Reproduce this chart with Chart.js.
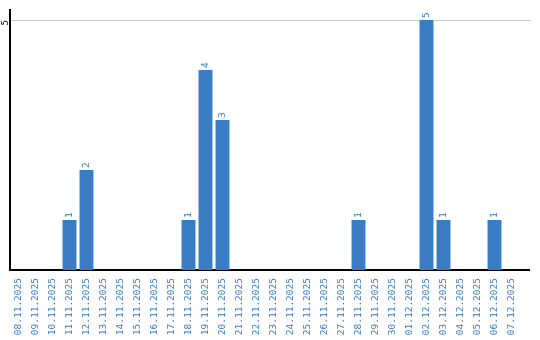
<!DOCTYPE html>
<html><head><meta charset="utf-8">
<script src="https://cdn.jsdelivr.net/npm/chart.js@4/dist/chart.umd.min.js"></script>
<style>html,body{margin:0;padding:0;background:#fff}#wrap{width:540px;height:340px;position:relative}</style>
</head><body><div id="wrap"><canvas id="c"></canvas></div>
<script>
const categories = ['08.11.2025','09.11.2025','10.11.2025','11.11.2025','12.11.2025','13.11.2025','14.11.2025','15.11.2025','16.11.2025','17.11.2025','18.11.2025','19.11.2025','20.11.2025','21.11.2025','22.11.2025','23.11.2025','24.11.2025','25.11.2025','26.11.2025','27.11.2025','28.11.2025','29.11.2025','30.11.2025','01.12.2025','02.12.2025','03.12.2025','04.12.2025','05.12.2025','06.12.2025','07.12.2025'];
const values = [0,0,0,1,2,0,0,0,0,0,1,4,3,0,0,0,0,0,0,0,1,0,0,0,5,1,0,0,1,0];
const yTicks = [5];

const BLUE = '#3b7dc4';
const TEXT = '#3a7bc6';

const valueLabels = {
  id: 'valueLabels',
  afterDatasetsDraw(chart) {
    const ctx = chart.ctx;
    const meta = chart.getDatasetMeta(0);
    ctx.save();
    ctx.font = '9.5px "DejaVu Sans Mono"';
    ctx.fillStyle = TEXT;
    meta.data.forEach((bar, i) => {
      const v = values[i];
      if (!v) return;
      ctx.save();
      ctx.translate(bar.x, bar.y - 2);
      ctx.rotate(-Math.PI / 2);
      ctx.textAlign = 'left';
      ctx.textBaseline = 'middle';
      ctx.fillText(String(v), 0, 0);
      ctx.restore();
    });
    ctx.restore();
  }
};

const axisExtend = {
  id: 'axisExtend',
  afterDraw(chart) {
    const ctx = chart.ctx;
    const a = chart.chartArea;
    const y = chart.scales.y;
    ctx.save();
    ctx.strokeStyle = '#c8c8c8';
    ctx.lineWidth = 1;
    yTicks.forEach(t => {
      const py = Math.round(y.getPixelForValue(t)) + 0.5;
      ctx.beginPath(); ctx.moveTo(a.right, py); ctx.lineTo(a.right + 11, py); ctx.stroke();
    });
    ctx.strokeStyle = '#000';
    ctx.lineWidth = 2;
    const by = y.getPixelForValue(0);
    ctx.beginPath(); ctx.moveTo(a.right - 1, by); ctx.lineTo(a.right + 10, by); ctx.stroke();
    ctx.restore();
  }
};

new Chart(document.getElementById('c'), {
  type: 'bar',
  data: {
    labels: categories,
    datasets: [{ data: values, backgroundColor: BLUE, borderWidth: 0, barPercentage: 0.82, categoryPercentage: 1 }]
  },
  options: {
    responsive: true,
    maintainAspectRatio: false,
    animation: false,
    layout: { padding: { top: 10, right: 20, left: 0, bottom: 0 } },
    plugins: { legend: { display: false }, tooltip: { enabled: false } },
    scales: {
      x: {
        grid: { display: false, drawTicks: false },
        border: { display: true, color: '#000', width: 2 },
        afterFit(s) { s.height = 70; },
        ticks: {
          autoSkip: false, minRotation: 90, maxRotation: 90, padding: 8,
          color: TEXT, font: { family: 'DejaVu Sans Mono', size: 9.5 }
        }
      },
      y: {
        min: 0, max: 5.2,
        afterBuildTicks(s) { s.ticks = yTicks.map(v => ({ value: v })); },
        afterFit(s) { s.width = 10; },
        grid: { color: '#c8c8c8', lineWidth: 1, drawTicks: false },
        border: { display: true, color: '#000', width: 2 },
        ticks: {
          minRotation: 90, maxRotation: 90, padding: 4,
          color: '#000', font: { family: 'DejaVu Sans Mono', size: 9 }
        }
      }
    }
  },
  plugins: [valueLabels, axisExtend]
});
</script></body></html>
